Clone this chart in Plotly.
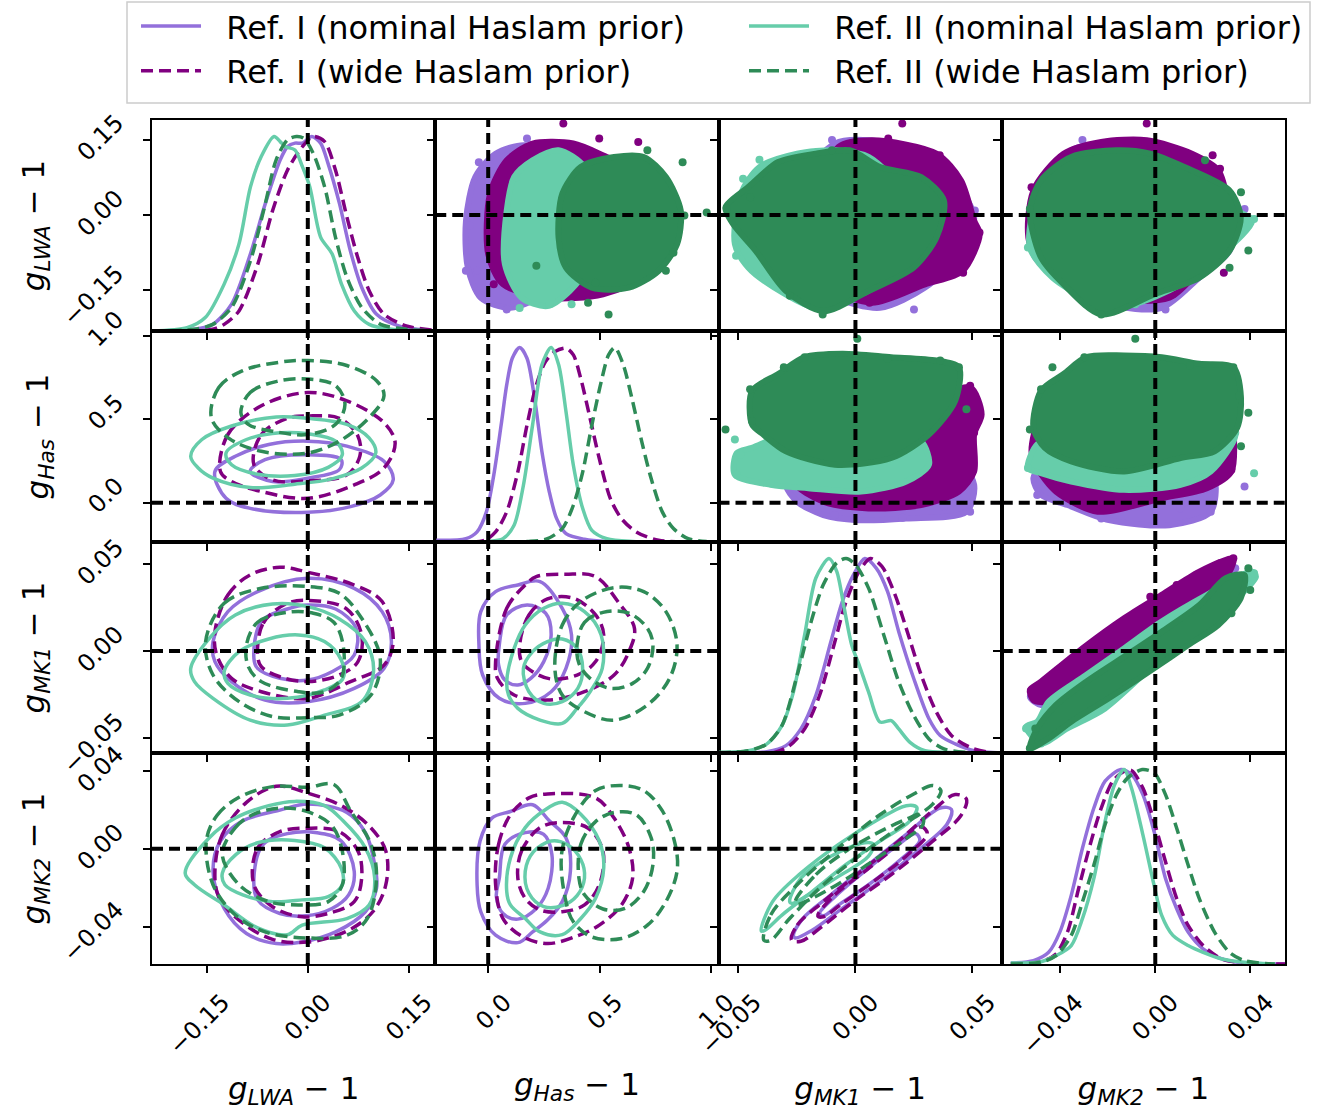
import plotly.graph_objects as go
from plotly.subplots import make_subplots

FONT = "DejaVu Sans"

# ---------------- series ----------------
series_keys = ["I_nom", "I_wide", "II_nom", "II_wide"]
series_names = {
    "I_nom": "Ref. I (nominal Haslam prior)",
    "I_wide": "Ref. I (wide Haslam prior)",
    "II_nom": "Ref. II (nominal Haslam prior)",
    "II_wide": "Ref. II (wide Haslam prior)",
}
series_colors = {"I_nom": "#9370DB", "I_wide": "#800080", "II_nom": "#66CDAA", "II_wide": "#2E8B57"}
series_dash = {"I_nom": "solid", "I_wide": "12px,6px", "II_nom": "solid", "II_wide": "12px,6px"}
series_legend = {"I_nom": "legend", "I_wide": "legend", "II_nom": "legend2", "II_wide": "legend2"}

# ---------------- axes ----------------
axis_titles = ["<i>g</i><sub><i>LWA</i></sub> − 1", "<i>g</i><sub><i>Has</i></sub> − 1",
               "<i>g</i><sub><i>MK1</i></sub> − 1", "<i>g</i><sub><i>MK2</i></sub> − 1"]
ranges_x = [[-0.231, 0.189], [-0.2375, 1.033], [-0.0585, 0.0625], [-0.0645, 0.0545]]
ranges_y = [[-0.231, 0.189], [-0.236, 1.03], [-0.0586, 0.0626], [-0.0593, 0.0493]]
tick_vals = [[-0.15, 0.0, 0.15], [0.0, 0.5, 1.0], [-0.05, 0.0, 0.05], [-0.04, 0.0, 0.04]]
tick_text = [["−0.15", "0.00", "0.15"], ["0.0", "0.5", "1.0"], ["−0.05", "0.00", "0.05"], ["−0.04", "0.00", "0.04"]]
truth = [0.0, 0.0, 0.0, 0.0]
density_range = [0, 1.085]

# ---------------- 1D marginal densities (x, relative density) ----------------
kde_lwa = {
    "I_nom": ([-0.232, -0.168, -0.141, -0.113, -0.085, -0.063, -0.041, -0.030, -0.019, -0.008, 0.006, 0.019, 0.030, 0.047, 0.063, 0.080, 0.102, 0.135, 0.189],
              [0, 0.009, 0.034, 0.138, 0.397, 0.655, 0.879, 0.948, 0.966, 0.966, 1.0, 0.966, 0.862, 0.655, 0.414, 0.224, 0.086, 0.026, 0]),
    "I_wide": ([-0.232, -0.141, -0.124, -0.102, -0.074, -0.052, -0.030, -0.008, 0.008, 0.025, 0.041, 0.058, 0.074, 0.091, 0.113, 0.146, 0.189],
               [0, 0.009, 0.034, 0.103, 0.345, 0.621, 0.828, 0.948, 1.0, 0.974, 0.828, 0.586, 0.379, 0.207, 0.086, 0.026, 0.003]),
    "II_nom": ([-0.232, -0.179, -0.152, -0.124, -0.102, -0.085, -0.069, -0.050, -0.041, -0.033, -0.019, -0.008, 0.003, 0.019, 0.036, 0.050, 0.069, 0.091, 0.124, 0.189],
               [0, 0.017, 0.069, 0.241, 0.448, 0.741, 0.897, 1.0, 0.974, 0.948, 0.931, 0.845, 0.741, 0.483, 0.397, 0.241, 0.103, 0.034, 0.009, 0]),
    "II_wide": ([-0.232, -0.168, -0.141, -0.113, -0.085, -0.063, -0.047, -0.030, -0.017, -0.006, 0.008, 0.025, 0.041, 0.058, 0.080, 0.108, 0.146, 0.189],
                [0, 0.009, 0.034, 0.121, 0.362, 0.655, 0.879, 0.983, 1.0, 0.991, 0.914, 0.741, 0.483, 0.276, 0.121, 0.034, 0.009, 0]),
}
kde_has = {
    "I_nom": ([-0.233, -0.100, -0.050, -0.008, 0.025, 0.058, 0.083, 0.108, 0.141, 0.174, 0.208, 0.241, 0.274, 0.307, 0.349, 0.432, 0.532, 1.033],
              [0.009, 0.017, 0.052, 0.155, 0.344, 0.601, 0.808, 0.945, 1.0, 0.945, 0.739, 0.464, 0.258, 0.120, 0.043, 0.014, 0.003, 0]),
    "I_wide": ([-0.233, -0.017, 0.033, 0.083, 0.133, 0.174, 0.216, 0.257, 0.299, 0.349, 0.382, 0.415, 0.457, 0.498, 0.548, 0.598, 0.664, 0.764, 1.033],
               [0, 0.009, 0.052, 0.155, 0.361, 0.601, 0.808, 0.928, 0.979, 0.997, 0.962, 0.842, 0.636, 0.430, 0.223, 0.120, 0.052, 0.009, 0]),
    "II_nom": ([-0.233, 0.0, 0.066, 0.116, 0.158, 0.199, 0.241, 0.282, 0.316, 0.349, 0.382, 0.424, 0.465, 0.532, 0.648, 1.033],
               [0, 0.003, 0.017, 0.086, 0.292, 0.601, 0.911, 1.0, 0.911, 0.670, 0.395, 0.172, 0.060, 0.017, 0.003, 0]),
    "II_wide": ([-0.233, 0.183, 0.266, 0.332, 0.382, 0.424, 0.465, 0.507, 0.540, 0.568, 0.606, 0.648, 0.689, 0.731, 0.781, 0.831, 0.897, 0.980],
                [0, 0.003, 0.017, 0.069, 0.189, 0.361, 0.601, 0.825, 0.962, 1.0, 0.911, 0.722, 0.515, 0.326, 0.155, 0.069, 0.017, 0.003]),
}
kde_mk1 = {
    "I_nom": ([-0.0584, -0.0378, -0.0297, -0.0233, -0.0169, -0.0105, -0.0056, -0.0008, 0.0040, 0.0088, 0.0137, 0.0185, 0.0249, 0.0314, 0.0362, 0.0426, 0.0507, 0.0627],
              [0, 0.007, 0.038, 0.124, 0.297, 0.572, 0.779, 0.917, 1.0, 0.952, 0.831, 0.624, 0.383, 0.176, 0.090, 0.047, 0.012, 0]),
    "I_wide": ([-0.0584, -0.0346, -0.0281, -0.0217, -0.0153, -0.0088, -0.0040, 0.0016, 0.0064, 0.0113, 0.0169, 0.0217, 0.0281, 0.0346, 0.0410, 0.0490, 0.0571, 0.0627],
               [0, 0.003, 0.038, 0.124, 0.297, 0.572, 0.779, 0.934, 1.0, 0.960, 0.814, 0.641, 0.400, 0.210, 0.090, 0.029, 0.003, 0]),
    "II_nom": ([-0.0584, -0.0458, -0.0378, -0.0314, -0.0265, -0.0217, -0.0169, -0.0113, -0.0080, -0.0048, -0.0016, 0.0016, 0.0056, 0.0105, 0.0153, 0.0185, 0.0233, 0.0297, 0.0410, 0.0627],
               [0.003, 0.012, 0.047, 0.141, 0.314, 0.607, 0.900, 1.0, 0.934, 0.745, 0.555, 0.452, 0.314, 0.159, 0.167, 0.124, 0.055, 0.012, 0.003, 0]),
    "II_wide": ([-0.0584, -0.0458, -0.0378, -0.0314, -0.0249, -0.0185, -0.0137, -0.0080, -0.0040, 0.0, 0.0056, 0.0121, 0.0185, 0.0249, 0.0314, 0.0378, 0.0474, 0.0627],
                [0.003, 0.012, 0.047, 0.141, 0.400, 0.693, 0.866, 0.978, 1.0, 0.969, 0.848, 0.607, 0.366, 0.193, 0.072, 0.021, 0.003, 0]),
}
kde_mk2 = {
    "I_nom": ([-0.0607, -0.0512, -0.0448, -0.0401, -0.0353, -0.0306, -0.0258, -0.0211, -0.0144, -0.0100, -0.0052, -0.0005, 0.0043, 0.0090, 0.0138, 0.0201, 0.0280, 0.0375, 0.0545],
              [0.005, 0.017, 0.060, 0.164, 0.353, 0.595, 0.802, 0.940, 1.0, 0.974, 0.871, 0.681, 0.440, 0.284, 0.164, 0.078, 0.026, 0.005, 0]),
    "I_wide": ([-0.0607, -0.0480, -0.0417, -0.0369, -0.0322, -0.0274, -0.0227, -0.0179, -0.0131, -0.0100, -0.0052, -0.0005, 0.0043, 0.0090, 0.0138, 0.0201, 0.0280, 0.0375, 0.0545],
               [0, 0.012, 0.052, 0.164, 0.388, 0.612, 0.802, 0.940, 0.991, 0.995, 0.905, 0.733, 0.526, 0.336, 0.198, 0.095, 0.026, 0.005, 0]),
    "II_nom": ([-0.0607, -0.0480, -0.0417, -0.0353, -0.0306, -0.0258, -0.0211, -0.0171, -0.0131, -0.0100, -0.0052, -0.0005, 0.0027, 0.0074, 0.0138, 0.0201, 0.0280, 0.0375, 0.0502],
               [0.005, 0.012, 0.043, 0.095, 0.233, 0.440, 0.733, 0.922, 1.0, 0.905, 0.664, 0.405, 0.250, 0.147, 0.095, 0.060, 0.026, 0.009, 0]),
    "II_wide": ([-0.0607, -0.0480, -0.0417, -0.0353, -0.0306, -0.0258, -0.0211, -0.0163, -0.0116, -0.0055, -0.0005, 0.0043, 0.0090, 0.0138, 0.0185, 0.0249, 0.0312, 0.0375, 0.0502],
                [0, 0.009, 0.043, 0.147, 0.319, 0.509, 0.716, 0.871, 0.957, 1.0, 0.983, 0.871, 0.698, 0.509, 0.336, 0.164, 0.060, 0.017, 0]),
}

# ---------------- 2D credible contours (outer, inner), lower triangle ----------------
c_has_lwa = {
    "I_nom": [[(-0.1377, 0.187), (-0.1212, 0.026), (-0.0854, -0.034), (0, -0.058), (0.0634, -0.024), (0.1074, 0.046), (0.1267, 0.137), (0.113, 0.248), (0.0579, 0.339), (0, 0.369), (-0.0579, 0.349), (-0.1074, 0.278)],
              [(-0.0854, 0.187), (-0.0634, 0.258), (0, 0.288), (0.0496, 0.258), (0.0468, 0.198), (0, 0.147), (-0.0523, 0.127)]],
    "I_wide": [[(-0.1295, 0.187), (-0.1185, 0.409), (-0.0689, 0.581), (0, 0.661), (0.0579, 0.611), (0.113, 0.480), (0.1295, 0.359), (0.113, 0.208), (0.0689, 0.107), (0, 0.026), (-0.0689, 0.067), (-0.113, 0.127)],
               [(-0.0799, 0.228), (-0.0689, 0.409), (-0.0303, 0.506), (0, 0.520), (0.0468, 0.506), (0.0744, 0.399), (0.0771, 0.278), (0.0579, 0.167), (0, 0.131), (-0.0523, 0.137)]],
    "II_nom": [[(-0.1736, 0.278), (-0.157, 0.379), (-0.113, 0.460), (-0.0468, 0.514), (0, 0.506), (0.0579, 0.470), (0.0909, 0.389), (0.1008, 0.298), (0.0799, 0.208), (0.0358, 0.143), (-0.0193, 0.111), (-0.0854, 0.091), (-0.1405, 0.147), (-0.1625, 0.208)],
               [(-0.1212, 0.298), (-0.0909, 0.379), (-0.0413, 0.419), (0, 0.413), (0.0413, 0.369), (0.0512, 0.288), (0.0303, 0.212), (-0.0193, 0.163), (-0.0744, 0.171), (-0.113, 0.228)]],
    "II_wide": [[(-0.143, 0.510), (-0.132, 0.691), (-0.0964, 0.792), (-0.0413, 0.843), (0, 0.853), (0.0579, 0.823), (0.102, 0.732), (0.113, 0.641), (0.0909, 0.510), (0.0468, 0.369), (0, 0.298), (-0.0689, 0.308), (-0.118, 0.389)],
                [(-0.0992, 0.540), (-0.0854, 0.661), (-0.0457, 0.728), (0, 0.742), (0.0413, 0.702), (0.0551, 0.591), (0.0413, 0.470), (0, 0.409), (-0.0523, 0.429), (-0.0882, 0.470)]],
}
c_mk1_lwa = {
    "I_nom": [[(-0.1405, 0.0054), (-0.1185, 0.0226), (-0.0744, 0.0341), (0, 0.0418), (0.0689, 0.036), (0.1102, 0.0226), (0.124, 0.0054), (0.113, -0.0100), (0.0689, -0.0215), (0, -0.0291), (-0.0634, -0.0282), (-0.113, -0.0176), (-0.1377, -0.0061)],
              [(-0.0799, -0.0042), (-0.0689, 0.0169), (-0.0303, 0.0241), (0, 0.0264), (0.0413, 0.0241), (0.0716, 0.013), (0.0689, -0.0023), (0.0358, -0.0119), (0, -0.0167), (-0.0413, -0.0157), (-0.0744, -0.01)]],
    "I_wide": [[(-0.1377, 0.0111), (-0.1185, 0.0322), (-0.0854, 0.0437), (-0.0413, 0.0481), (0, 0.0452), (0.0689, 0.0379), (0.1102, 0.0284), (0.1267, 0.0054), (0.113, -0.0081), (0.0634, -0.0176), (0, -0.0272), (-0.0689, -0.0234), (-0.113, -0.0157), (-0.135, -0.0023)],
               [(-0.0744, -0.0023), (-0.0661, 0.0159), (-0.0303, 0.0274), (0.0083, 0.0289), (0.0579, 0.0241), (0.0799, 0.0092), (0.0744, -0.0061), (0.0468, -0.0138), (0, -0.0176), (-0.0413, -0.0148), (-0.0689, -0.009)]],
    "II_nom": [[(-0.1736, -0.01), (-0.146, 0.0073), (-0.1074, 0.0207), (-0.0523, 0.027), (0, 0.0255), (0.0468, 0.0184), (0.0854, 0.0054), (0.0975, -0.0119), (0.0799, -0.0291), (0.0248, -0.0368), (-0.0303, -0.0425), (-0.0854, -0.0397), (-0.1405, -0.0272), (-0.168, -0.0176)],
               [(-0.124, -0.0119), (-0.1019, -0.0004), (-0.0579, 0.0069), (-0.0138, 0.0092), (0.0248, 0.0054), (0.0496, -0.0052), (0.0523, -0.0157), (0.0248, -0.0224), (-0.0303, -0.0272), (-0.0854, -0.0253), (-0.1185, -0.0186)]],
    "II_wide": [[(-0.1515, 0.0054), (-0.124, 0.0274), (-0.0689, 0.036), (0, 0.037), (0.0468, 0.0331), (0.0799, 0.0188), (0.1074, -0.0042), (0.0937, -0.0253), (0.0468, -0.0368), (0, -0.0383), (-0.0523, -0.0377), (-0.1019, -0.0291), (-0.1405, -0.0138)],
                [(-0.0909, 0.0035), (-0.0744, 0.0165), (-0.0303, 0.0222), (0.0083, 0.0217), (0.0386, 0.0165), (0.0523, 0.0035), (0.0496, -0.0157), (0.0248, -0.0234), (-0.0138, -0.0234), (-0.0689, -0.0176), (-0.0882, -0.009)]],
}
c_mk1_has = {
    "I_nom": [[(-0.0415, 0.0035), (-0.0332, 0.0226), (0.0332, 0.0341), (0.1329, 0.0379), (0.2325, 0.0399), (0.3322, 0.0245), (0.3737, 0.0092), (0.3488, -0.0100), (0.2824, -0.0234), (0.1661, -0.0301), (0.0498, -0.0272), (-0.0249, -0.0138)],
              [(0.0498, 0.0035), (0.0831, 0.0207), (0.1744, 0.0264), (0.2575, 0.0217), (0.2824, 0.0092), (0.2492, -0.0061), (0.191, -0.0157), (0.1329, -0.0195), (0.0748, -0.0167), (0.0465, -0.008)]],
    "I_wide": [[(0.0332, -0.0061), (0.0831, 0.0245), (0.1661, 0.0379), (0.2159, 0.0427), (0.3488, 0.0441), (0.4817, 0.0427), (0.5814, 0.0284), (0.6561, 0.013), (0.6312, -0.0004), (0.5647, -0.0138), (0.4319, -0.0234), (0.2658, -0.0282), (0.1163, -0.0253), (0.0415, -0.0157)],
               [(0.1412, 0.0035), (0.1827, 0.0207), (0.2658, 0.0299), (0.382, 0.0303), (0.4817, 0.0207), (0.5182, 0.0092), (0.4817, -0.0061), (0.3986, -0.0138), (0.2824, -0.0161), (0.1993, -0.0119), (0.1495, -0.0061)]],
    "II_nom": [[(0.0831, -0.0176), (0.1163, 0.0015), (0.1661, 0.0149), (0.2492, 0.0245), (0.3322, 0.0274), (0.4319, 0.0226), (0.5066, 0.0092), (0.5116, -0.0100), (0.4568, -0.0234), (0.3986, -0.033), (0.3322, -0.0416), (0.2325, -0.0397), (0.1329, -0.033), (0.0914, -0.0253)],
               [(0.1578, -0.0100), (0.1993, -0.0004), (0.2658, 0.0054), (0.3322, 0.0069), (0.3986, 0.0015), (0.4236, -0.0100), (0.402, -0.0215), (0.3322, -0.0291), (0.2492, -0.0301), (0.1827, -0.0234)]],
    "II_wide": [[(0.299, -0.0100), (0.3322, 0.0149), (0.4153, 0.0284), (0.5647, 0.0364), (0.6976, 0.0341), (0.7973, 0.0226), (0.8471, 0.0035), (0.8139, -0.0157), (0.7142, -0.031), (0.5647, -0.0397), (0.4319, -0.0349), (0.3322, -0.0253)],
                [(0.3986, 0.0035), (0.4319, 0.0165), (0.5149, 0.0222), (0.6312, 0.0217), (0.7142, 0.013), (0.7391, 0.0035), (0.7142, -0.0100), (0.6478, -0.0186), (0.5481, -0.0215), (0.4568, -0.0157), (0.407, -0.0071)]],
}
c_mk2_lwa = {
    "I_nom": [[(-0.1405, -0.0116), (-0.1295, 0.004), (-0.0964, 0.0144), (-0.0413, 0.0199), (0, 0.023), (0.0579, 0.0187), (0.0854, 0.0083), (0.0992, -0.0081), (0.1019, -0.0203), (0.0854, -0.0324), (0.0413, -0.0428), (-0.0083, -0.048), (-0.0468, -0.0488), (-0.0909, -0.0436), (-0.124, -0.0307)],
              [(-0.0799, -0.0151), (-0.0661, 0.0023), (-0.0303, 0.0078), (0.0138, 0.0083), (0.0496, 0.004), (0.0689, -0.0116), (0.0606, -0.0237), (0.0358, -0.0307), (-0.0028, -0.0345), (-0.0413, -0.0333), (-0.0744, -0.0263)]],
    "I_wide": [[(-0.1377, -0.0116), (-0.1267, 0.0074), (-0.0909, 0.0239), (-0.0468, 0.0322), (0, 0.0286), (0.0496, 0.0222), (0.0909, 0.0118), (0.1157, -0.0012), (0.1157, -0.0185), (0.0964, -0.0324), (0.0579, -0.0424), (0, -0.048), (-0.0523, -0.0466), (-0.1019, -0.0367), (-0.1322, -0.0246)],
               [(-0.0799, -0.0185), (-0.0744, 0.0005), (-0.0413, 0.0088), (0, 0.0106), (0.0468, 0.0088), (0.0744, -0.0012), (0.0799, -0.0151), (0.0689, -0.0272), (0.0303, -0.0333), (-0.0083, -0.035), (-0.0523, -0.0298)]],
    "II_nom": [[(-0.1818, -0.0125), (-0.146, 0.0057), (-0.1074, 0.0158), (-0.0579, 0.0222), (-0.0193, 0.0244), (0.0248, 0.0222), (0.0523, 0.0144), (0.0854, 0.0005), (0.0992, -0.0151), (0.0909, -0.0289), (0.0579, -0.0359), (-0.0083, -0.0393), (-0.0303, -0.0442), (-0.0744, -0.0407), (-0.124, -0.0289), (-0.168, -0.0185)],
               [(-0.1267, -0.0125), (-0.1063, -0.0029), (-0.0744, 0.0031), (-0.0193, 0.0043), (0.0248, 0.0005), (0.0496, -0.0099), (0.0512, -0.0185), (0.0303, -0.0246), (-0.0083, -0.0263), (-0.0523, -0.0272), (-0.0964, -0.0237), (-0.1229, -0.0185)]],
    "II_wide": [[(-0.1504, 0.004), (-0.135, 0.017), (-0.1019, 0.0265), (-0.0523, 0.032), (0, 0.0317), (0.0386, 0.0331), (0.0634, 0.0196), (0.0937, 0.0023), (0.1019, -0.0151), (0.0882, -0.0359), (0.0579, -0.0445), (0, -0.0459), (-0.0634, -0.0428), (-0.1074, -0.0341), (-0.1405, -0.0185)],
                [(-0.1267, -0.0029), (-0.1074, 0.0109), (-0.0799, 0.0178), (-0.0358, 0.021), (0.0028, 0.0187), (0.0358, 0.0118), (0.0512, -0.0012), (0.0512, -0.0185), (0.0303, -0.0272), (-0.0138, -0.0289), (-0.0579, -0.0272), (-0.1019, -0.0185)]],
}
c_mk2_has = {
    "I_nom": [[(-0.0498, -0.0185), (-0.0365, 0.004), (0.0166, 0.0158), (0.0997, 0.0192), (0.1993, 0.0227), (0.2741, 0.0144), (0.3488, 0.0057), (0.3687, -0.0116), (0.3322, -0.0272), (0.2658, -0.0367), (0.1993, -0.0428), (0.1329, -0.0483), (0.0332, -0.0445), (-0.0332, -0.0324)],
              [(0.0498, -0.0151), (0.0748, 0.0023), (0.1661, 0.0083), (0.2492, 0.0074), (0.2857, -0.0029), (0.2691, -0.0203), (0.2159, -0.0307), (0.1329, -0.0362), (0.0664, -0.0333), (0.0365, -0.0246)]],
    "I_wide": [[(0.0332, -0.0185), (0.0465, 0.0023), (0.0997, 0.0175), (0.1827, 0.0262), (0.2658, 0.0282), (0.4817, 0.0262), (0.5647, 0.0158), (0.6312, 0.0005), (0.6478, -0.0151), (0.598, -0.0289), (0.4983, -0.0393), (0.3986, -0.0449), (0.2658, -0.0488), (0.1495, -0.0449), (0.0664, -0.0359)],
               [(0.1329, -0.0151), (0.1495, -0.0012), (0.2325, 0.0109), (0.3322, 0.0135), (0.4485, 0.0106), (0.5149, -0.0012), (0.4983, -0.0185), (0.4319, -0.0289), (0.3322, -0.0324), (0.2325, -0.0315), (0.1661, -0.0255)]],
    "II_nom": [[(0.0831, -0.022), (0.0997, -0.0047), (0.1661, 0.0109), (0.2492, 0.0196), (0.3322, 0.0239), (0.4153, 0.0178), (0.4983, 0.004), (0.5182, -0.0099), (0.4817, -0.0255), (0.4153, -0.0359), (0.3322, -0.0442), (0.2325, -0.0428), (0.1661, -0.0359), (0.0997, -0.0289)],
               [(0.1661, -0.0116), (0.2026, -0.0016), (0.2824, 0.004), (0.3521, 0.0023), (0.4153, -0.0055), (0.4319, -0.0151), (0.3986, -0.0241), (0.3322, -0.0293), (0.2492, -0.0298), (0.1827, -0.0229)]],
    "II_wide": [[(0.3488, -0.0272), (0.3289, -0.0029), (0.382, 0.0158), (0.4817, 0.03), (0.598, 0.0326), (0.6976, 0.03), (0.7807, 0.0196), (0.8388, 0.0023), (0.8471, -0.0116), (0.7973, -0.0272), (0.7142, -0.0393), (0.598, -0.0462), (0.4651, -0.0454), (0.382, -0.0376)],
                [(0.407, -0.0151), (0.4153, 0.0023), (0.4817, 0.014), (0.5647, 0.0187), (0.6644, 0.0175), (0.7308, 0.0057), (0.7391, -0.0081), (0.6976, -0.022), (0.6146, -0.0307), (0.5149, -0.031), (0.4319, -0.0237)]],
}
c_mk2_mk1 = {
    "I_nom": [[(-0.0265, -0.0445), (-0.0225, -0.0359), (-0.0105, -0.0237), (0.0056, -0.0081), (0.0217, 0.0074), (0.0362, 0.021), (0.041, 0.0203), (0.0391, 0.0126), (0.0265, -0.0012), (0.0105, -0.0168), (-0.0056, -0.0307), (-0.0185, -0.0419), (-0.0257, -0.0459)],
              [(-0.0153, -0.0333), (-0.0072, -0.0229), (0.0056, -0.0099), (0.0185, 0.0023), (0.0257, 0.0078), (0.0275, 0.0043), (0.0193, -0.0055), (0.0056, -0.0185), (-0.0072, -0.0289), (-0.0137, -0.0345)]],
    "I_wide": [[(-0.0273, -0.0471), (-0.0249, -0.0393), (-0.0137, -0.0272), (0.0024, -0.0116), (0.0185, 0.004), (0.033, 0.0196), (0.0426, 0.0279), (0.0474, 0.0256), (0.045, 0.017), (0.0314, 0.0023), (0.0153, -0.0133), (-0.0008, -0.0272), (-0.0153, -0.041), (-0.0233, -0.0476)],
               [(-0.0161, -0.0345), (-0.0088, -0.0237), (0.004, -0.0116), (0.0185, 0.0023), (0.0281, 0.0113), (0.0307, 0.0078), (0.0225, -0.0029), (0.0088, -0.0159), (-0.0056, -0.0281), (-0.0137, -0.035)]],
    "II_nom": [[(-0.0402, -0.0424), (-0.0354, -0.0272), (-0.0233, -0.0125), (-0.0072, 0.0023), (0.0088, 0.0144), (0.0217, 0.0222), (0.0262, 0.0213), (0.0233, 0.0144), (0.0105, 0.004), (-0.004, -0.0081), (-0.0185, -0.022), (-0.0314, -0.0341), (-0.0386, -0.0419)],
               [(-0.0281, -0.0272), (-0.0233, -0.0151), (-0.0105, -0.0038), (0.004, 0.0031), (0.0076, 0.0023), (0.0056, -0.0038), (-0.0072, -0.0142), (-0.0201, -0.0237), (-0.0273, -0.0281)]],
    "II_wide": [[(-0.0391, -0.0471), (-0.0362, -0.0341), (-0.0249, -0.0185), (-0.0088, -0.0012), (0.0088, 0.0161), (0.0249, 0.0282), (0.033, 0.0326), (0.0365, 0.03), (0.033, 0.023), (0.0185, 0.0109), (0.0024, -0.0029), (-0.0137, -0.0185), (-0.0281, -0.0359), (-0.0362, -0.0471)],
                [(-0.0257, -0.0272), (-0.0169, -0.0133), (-0.004, -0.0012), (0.0088, 0.0078), (0.0217, 0.0152), (0.0281, 0.0178), (0.0289, 0.0126), (0.0201, 0.004), (0.0072, -0.0064), (-0.0056, -0.0168), (-0.0185, -0.0255), (-0.0249, -0.0286)]],
}

# ---------------- sample clouds (outline of the dense scatter), upper triangle ----------------
cl_lwa_has = {
    "I_nom": [(-0.0914, -0.1047), (-0.0997, -0.0113), (-0.0581, 0.0754), (0.0332, 0.122), (0.1661, 0.1387), (0.299, 0.1087), (0.3654, 0.042), (0.3488, -0.0714), (0.2658, -0.1514), (0.0997, -0.1848), (-0.0332, -0.1647)],
    "I_wide": [(0, -0.078), (0.0083, 0.042), (0.0831, 0.1087), (0.1993, 0.1421), (0.382, 0.1421), (0.5315, 0.1154), (0.7308, 0.0754), (0.7973, -0.0113), (0.7308, -0.1114), (0.5149, -0.1581), (0.2658, -0.1648), (0.0664, -0.1381)],
    "II_nom": [(0.0748, -0.098), (0.0831, 0.0087), (0.1163, 0.0754), (0.1993, 0.1087), (0.3156, 0.1287), (0.4319, 0.0954), (0.4817, 0.0087), (0.4651, -0.0914), (0.3654, -0.1514), (0.2658, -0.1814), (0.1495, -0.1647)],
    "II_wide": [(0.3156, -0.0447), (0.3322, 0.042), (0.4153, 0.0954), (0.5647, 0.1154), (0.6976, 0.1154), (0.7973, 0.0754), (0.8637, 0.0087), (0.8471, -0.058), (0.7641, -0.1114), (0.6312, -0.1447), (0.4651, -0.1447), (0.3488, -0.1047)],
}
cl_lwa_mk1 = {
    "I_nom": [(-0.0265, -0.058), (-0.0217, 0.0754), (-0.0088, 0.1421), (0.0056, 0.1487), (0.0281, 0.122), (0.0442, 0.0554), (0.0507, -0.0047), (0.0458, -0.0714), (0.0297, -0.1447), (0.0105, -0.1848), (-0.0088, -0.1647), (-0.0217, -0.1247)],
    "I_wide": [(-0.0201, -0.0714), (-0.0169, 0.042), (-0.0072, 0.1354), (0.0072, 0.1487), (0.0346, 0.122), (0.0451, 0.0687), (0.0507, -0.0113), (0.0531, -0.038), (0.0458, -0.1114), (0.0297, -0.1381), (0.0072, -0.1748), (-0.0105, -0.1447)],
    "II_nom": [(-0.0515, -0.058), (-0.049, 0.042), (-0.041, 0.0954), (-0.0249, 0.122), (-0.0088, 0.1287), (0.0056, 0.1154), (0.0217, 0.042), (0.0281, -0.0247), (0.0185, -0.1114), (-0.0008, -0.1648), (-0.0169, -0.1848), (-0.0346, -0.1447), (-0.0458, -0.1047)],
    "II_wide": [(-0.0555, 0.0153), (-0.0458, 0.0554), (-0.033, 0.1054), (-0.0169, 0.122), (-0.0024, 0.1287), (0.0105, 0.0954), (0.0281, 0.0754), (0.0378, 0.0287), (0.0346, -0.0447), (0.0249, -0.1047), (0.0056, -0.1514), (-0.0137, -0.1914), (-0.0297, -0.1514), (-0.0426, -0.0714), (-0.0523, -0.018)],
}
cl_lwa_mk2 = {
    "I_nom": [(-0.0512, -0.078), (-0.048, 0.0554), (-0.0353, 0.1287), (-0.0195, 0.1421), (0.0027, 0.122), (0.0185, 0.0954), (0.0265, 0.0354), (0.0344, 0.0087), (0.0312, -0.0714), (0.0185, -0.1247), (0.0027, -0.1848), (-0.0195, -0.1781), (-0.0385, -0.1314)],
    "I_wide": [(-0.0527, -0.058), (-0.0512, 0.0487), (-0.0385, 0.122), (-0.0227, 0.1454), (-0.0036, 0.1487), (0.0154, 0.122), (0.0265, 0.0887), (0.0312, 0.0087), (0.0328, -0.0514), (0.0185, -0.1114), (0.0059, -0.1648), (-0.0211, -0.1648), (-0.0401, -0.1247)],
    "II_nom": [(-0.0527, -0.0647), (-0.0496, 0.0354), (-0.0385, 0.1021), (-0.0195, 0.122), (-0.0005, 0.1154), (0.0185, 0.062), (0.0344, 0.0087), (0.0407, -0.0113), (0.028, -0.078), (0.0106, -0.1381), (-0.01, -0.1781), (-0.029, -0.1648), (-0.0432, -0.1247)],
    "II_wide": [(-0.0527, 0.0087), (-0.048, 0.0687), (-0.0353, 0.1154), (-0.0163, 0.1287), (-0.0021, 0.122), (0.0122, 0.0954), (0.0312, 0.0487), (0.0359, -0.0047), (0.0312, -0.0714), (0.0185, -0.1247), (-0.0005, -0.1581), (-0.0227, -0.1981), (-0.0385, -0.1381), (-0.048, -0.0847)],
}
cl_has_mk1 = {
    "I_nom": [(-0.0297, 0.107), (-0.0249, 0.268), (-0.0056, 0.409), (0.0185, 0.409), (0.041, 0.308), (0.0507, 0.107), (0.0474, -0.0544), (0.0217, -0.0948), (0.0008, -0.1048), (-0.0137, -0.0746), (-0.0249, 0.006)],
    "I_wide": [(-0.0265, 0.127), (-0.0249, 0.409), (-0.0137, 0.571), (0.0056, 0.611), (0.0281, 0.591), (0.049, 0.692), (0.0539, 0.530), (0.0507, 0.409), (0.0507, 0.187), (0.0442, 0.067), (0.0281, -0.0141), (0.0056, -0.0343), (-0.0137, 0.006)],
    "II_nom": [(-0.0515, 0.167), (-0.0507, 0.298), (-0.0442, 0.329), (-0.0297, 0.409), (-0.0056, 0.429), (0.0153, 0.429), (0.0281, 0.369), (0.0314, 0.228), (0.0217, 0.127), (0.0024, 0.067), (-0.0201, 0.087), (-0.0362, 0.107)],
    "II_wide": [(-0.0442, 0.470), (-0.0442, 0.671), (-0.033, 0.772), (-0.0217, 0.873), (-0.0056, 0.893), (0.0153, 0.873), (0.0346, 0.853), (0.0442, 0.812), (0.0426, 0.611), (0.0314, 0.409), (0.0153, 0.268), (-0.0088, 0.228), (-0.0297, 0.308), (-0.0394, 0.409)],
}
cl_has_mk2 = {
    "I_nom": [(-0.0512, 0.147), (-0.0448, 0.268), (-0.029, 0.349), (-0.0052, 0.369), (0.0154, 0.308), (0.0249, 0.147), (0.0233, -0.0544), (0.0059, -0.135), (-0.0195, -0.1048), (-0.0369, -0.0141), (-0.048, 0.0464)],
    "I_wide": [(-0.052, 0.308), (-0.048, 0.530), (-0.0353, 0.671), (-0.0131, 0.712), (0.0106, 0.692), (0.0312, 0.692), (0.0328, 0.470), (0.032, 0.187), (0.0217, 0.0867), (0.0027, 0.0262), (-0.0242, -0.0544), (-0.0417, 0.0665), (-0.0496, 0.208)],
    "II_nom": [(-0.0535, 0.208), (-0.0496, 0.349), (-0.0369, 0.409), (-0.0131, 0.429), (0.0106, 0.409), (0.0249, 0.429), (0.0336, 0.409), (0.0233, 0.187), (0.0106, 0.107), (-0.0131, 0.077), (-0.0353, 0.127), (-0.048, 0.177)],
    "II_wide": [(-0.0512, 0.450), (-0.048, 0.671), (-0.0385, 0.772), (-0.029, 0.873), (-0.0131, 0.883), (0.0027, 0.873), (0.0185, 0.833), (0.0328, 0.812), (0.036, 0.631), (0.0344, 0.450), (0.0249, 0.308), (0.0106, 0.268), (-0.0131, 0.187), (-0.0353, 0.248), (-0.0464, 0.329)],
}
cl_mk1_mk2 = {
    "I_nom": [(-0.0527, -0.0262), (-0.0448, -0.0157), (-0.029, 0.0015), (-0.01, 0.0207), (0.0106, 0.0379), (0.028, 0.0494), (0.0336, 0.0475), (0.0185, 0.0284), (-0.0005, 0.0092), (-0.0195, -0.01), (-0.0369, -0.0253), (-0.048, -0.031)],
    "I_wide": [(-0.0527, -0.0224), (-0.048, -0.0176), (-0.0306, 0.0015), (-0.0131, 0.0188), (0.0027, 0.0322), (0.0185, 0.0456), (0.0328, 0.0533), (0.0312, 0.0456), (0.0185, 0.0303), (0.0027, 0.0149), (-0.0163, -0.0042), (-0.0322, -0.0176), (-0.0448, -0.0291), (-0.0512, -0.0282)],
    "II_nom": [(-0.0543, -0.0435), (-0.0496, -0.0406), (-0.0448, -0.0291), (-0.029, -0.0138), (-0.0131, 0.0015), (0.0027, 0.0169), (0.0217, 0.0322), (0.0407, 0.0456), (0.0423, 0.0427), (0.0344, 0.0303), (0.0154, 0.0092), (-0.0005, -0.008), (-0.0211, -0.033), (-0.0369, -0.0445), (-0.048, -0.0531)],
    "II_wide": [(-0.0527, -0.0559), (-0.0496, -0.0445), (-0.0417, -0.031), (-0.029, -0.0176), (-0.0131, -0.0033), (0.0027, 0.0111), (0.0185, 0.0264), (0.0296, 0.0418), (0.0375, 0.0437), (0.0359, 0.0303), (0.0265, 0.0149), (0.0138, 0.0034), (-0.0005, -0.01), (-0.0195, -0.0272), (-0.0353, -0.0406), (-0.0448, -0.0502)],
}

# ---------------- isolated samples outside the dense clouds ----------------
out_lwa_has = {
    "I_nom": [(-0.042, 0.105), (-0.1, -0.111), (-0.083, -0.021), (-0.05, -0.111), (0.083, -0.188), (0.116, -0.175), (0.174, 0.152)],
    "I_wide": [(0.337, 0.182), (0.498, 0.152), (0.673, 0.145), (0.399, 0.135), (0.199, 0.139), (0.025, -0.138), (0.166, -0.161), (0.424, -0.151), (0.565, 0.102)],
    "II_nom": [(0.274, -0.178), (0.141, -0.185), (0.374, -0.178), (0.125, 0.075)],
    "II_wide": [(0.872, 0.105), (0.98, 0.005), (0.88, -0.001), (0.831, -0.075), (0.54, -0.198), (0.448, -0.175), (0.714, 0.129), (0.482, -0.135), (0.216, -0.101), (0.797, -0.111)],
}
out_lwa_mk1 = {
    "I_nom": [(-0.010, 0.149), (0.025, -0.188), (0.041, 0.065), (0.051, 0.009), (0.014, -0.168)],
    "I_wide": [(0.020, 0.182), (0.014, 0.152), (0.008, 0.145), (0.036, 0.119), (0.053, -0.035), (0.046, -0.115), (0.006, -0.175), (0.049, -0.058)],
    "II_nom": [(-0.041, 0.110), (-0.048, 0.072), (-0.051, -0.081), (-0.050, -0.045), (-0.036, -0.118), (-0.025, -0.165)],
    "II_wide": [(-0.055, 0.013), (-0.045, 0.035), (-0.028, -0.161), (-0.014, -0.198), (-0.010, 0.129)],
}
out_lwa_mk2 = {
    "I_nom": [(-0.0306, 0.149), (0.0138, 0.115), (0.0375, 0.012), (0.0043, -0.188), (-0.0163, -0.175), (-0.0417, -0.095)],
    "I_wide": [(-0.0036, 0.182), (-0.0171, 0.145), (-0.0116, 0.139), (0.0241, 0.119), (0.0272, 0.092), (-0.052, 0.055), (-0.0512, 0.032), (0.0288, -0.115), (0.0074, -0.158), (-0.0337, -0.141)],
    "II_nom": [(0.0415, -0.008), (-0.0535, -0.065), (-0.029, -0.178), (-0.0084, -0.178)],
    "II_wide": [(-0.0227, -0.198), (0.0391, -0.071), (0.036, 0.045), (0.0209, 0.109), (-0.0527, 0.012), (0.0312, -0.105)],
}
out_has_mk1 = {
    "I_nom": [(-0.0088, -0.075), (0.0008, -0.095), (0.0201, -0.091), (0.049, -0.054), (0.0474, 0.097), (0.0378, -0.024), (-0.0233, 0.067)],
    "I_wide": [(0.049, 0.702), (0.0531, 0.530), (0.0507, 0.419), (0.0498, 0.187), (0.0378, 0.127)],
    "II_nom": [(-0.0515, 0.379), (-0.0507, 0.167), (-0.049, 0.288), (-0.0362, 0.117)],
    "II_wide": [(0.0008, 0.984), (-0.0217, 0.873), (-0.0306, 0.812), (-0.045, 0.681), (-0.0555, 0.439), (-0.0442, 0.490), (0.0362, 0.853), (0.0442, 0.812), (0.0474, 0.560), (0.0137, 0.863)],
}
out_has_mk2 = {
    "I_nom": [(-0.0496, 0.046), (-0.0227, -0.095), (0.0233, -0.054), (0.0375, 0.097), (-0.0322, -0.014), (0.0106, -0.034)],
    "I_wide": [(0.0304, 0.692), (0.032, 0.520), (0.032, 0.198), (0.0233, 0.137), (-0.0512, 0.308), (-0.0448, 0.268)],
    "II_nom": [(0.0415, 0.177), (-0.0535, 0.208), (0.0336, 0.419)],
    "II_wide": [(-0.0084, 0.984), (-0.0298, 0.873), (-0.0432, 0.812), (-0.048, 0.681), (-0.0527, 0.439), (0.0328, 0.812), (0.0352, 0.641), (0.0391, 0.540), (0.036, 0.339), (0.0146, 0.823)],
}
out_mk1_mk2 = {
    "I_nom": [(-0.052, -0.0262), (0.0336, 0.0475)],
    "I_wide": [(0.0328, 0.0533), (0.0272, 0.0504), (0.009, 0.0379), (-0.0021, 0.0312), (-0.052, -0.0224)],
    "II_nom": [(0.0415, 0.0446), (-0.0543, -0.0445), (-0.048, -0.0531), (-0.0417, -0.0464)],
    "II_wide": [(-0.0527, -0.0559), (0.0391, 0.0475), (0.0399, 0.0351), (0.032, 0.0217), (-0.0504, -0.0445)],
}

diag_data = {1: kde_lwa, 2: kde_has, 3: kde_mk1, 4: kde_mk2}
lower_data = {(2, 1): c_has_lwa, (3, 1): c_mk1_lwa, (3, 2): c_mk1_has,
              (4, 1): c_mk2_lwa, (4, 2): c_mk2_has, (4, 3): c_mk2_mk1}
upper_data = {(1, 2): (cl_lwa_has, out_lwa_has), (1, 3): (cl_lwa_mk1, out_lwa_mk1),
              (1, 4): (cl_lwa_mk2, out_lwa_mk2), (2, 3): (cl_has_mk1, out_has_mk1),
              (2, 4): (cl_has_mk2, out_has_mk2), (3, 4): (cl_mk1_mk2, out_mk1_mk2)}


def closed(pts):
    xs = [p[0] for p in pts] + [pts[0][0]]
    ys = [p[1] for p in pts] + [pts[0][1]]
    return xs, ys


def ax_index(r, c):
    return (r - 1) * 4 + c


def xname(k):
    return "x" if k == 1 else f"x{k}"


def yname(k):
    return "y" if k == 1 else f"y{k}"


fig = make_subplots(rows=4, cols=4, horizontal_spacing=0, vertical_spacing=0)

# upper triangle: sample clouds (dense core + isolated samples)
for (r, c), (core, outl) in upper_data.items():
    for s in series_keys:
        xs, ys = closed(core[s])
        fig.add_trace(go.Scatter(x=xs, y=ys, mode="lines", fill="toself",
                                 fillcolor=series_colors[s],
                                 line=dict(color=series_colors[s], width=6, shape="spline", smoothing=0.8),
                                 showlegend=False, hoverinfo="skip"), row=r, col=c)
        fig.add_trace(go.Scatter(x=[p[0] for p in outl[s]], y=[p[1] for p in outl[s]], mode="markers",
                                 marker=dict(color=series_colors[s], size=8, line=dict(width=0)),
                                 showlegend=False, hoverinfo="skip"), row=r, col=c)

# lower triangle: contours
for (r, c), d in lower_data.items():
    for s in series_keys:
        for loop in d[s]:
            xs, ys = closed(loop)
            fig.add_trace(go.Scatter(x=xs, y=ys, mode="lines",
                                     line=dict(color=series_colors[s], width=3.5, dash=series_dash[s],
                                               shape="spline", smoothing=1.0),
                                     showlegend=False, hoverinfo="skip"), row=r, col=c)

# diagonal: marginal densities
for i in range(1, 5):
    for s in series_keys:
        xs, ds = diag_data[i][s]
        fig.add_trace(go.Scatter(x=xs, y=ds, mode="lines",
                                 name="\u00a0\u00a0" + series_names[s],
                                 legend=series_legend[s], legendgroup=s,
                                 showlegend=(i == 1),
                                 line=dict(color=series_colors[s], width=3.5, dash=series_dash[s],
                                           shape="spline", smoothing=0.8),
                                 hoverinfo="skip"), row=i, col=i)

common = dict(showline=True, linecolor="black", linewidth=1.5, mirror=True,
              ticks="outside", ticklen=7, tickwidth=1.5, tickcolor="black",
              showgrid=False, zeroline=False, tickangle=-45,
              tickfont=dict(family=FONT, size=24, color="black"))

# extra title offsets for the axes whose tick labels are shorter ("0.5" vs "-0.15")
x_title_standoff = [18, 39, 18, 18]
y_title_standoff = [4, 25, 4, 4]

shapes = []
for r in range(1, 5):
    for c in range(1, 5):
        k = ax_index(r, c)
        xa = dict(common, range=ranges_x[c - 1], tickvals=tick_vals[c - 1], ticktext=tick_text[c - 1],
                  showticklabels=(r == 4), ticklabelshift=16, ticklabelstandoff=6)
        if r == c:
            lo, hi = ranges_y[r - 1]
            yv = [(t - lo) / (hi - lo) * density_range[1] for t in tick_vals[r - 1]]
            ya = dict(common, range=density_range, tickvals=yv, ticktext=tick_text[r - 1],
                      showticklabels=(c == 1), ticklabelshift=-20, ticklabelstandoff=22)
        else:
            ya = dict(common, range=ranges_y[r - 1], tickvals=tick_vals[r - 1], ticktext=tick_text[r - 1],
                      showticklabels=(c == 1), ticklabelshift=-20, ticklabelstandoff=22)
        if r == 4:
            xa["title"] = dict(text=axis_titles[c - 1], font=dict(family=FONT, size=31, color="black"),
                               standoff=x_title_standoff[c - 1])
        if c == 1:
            ya["title"] = dict(text=axis_titles[r - 1], font=dict(family=FONT, size=31, color="black"),
                               standoff=y_title_standoff[r - 1])
        fig.layout["xaxis" if k == 1 else f"xaxis{k}"].update(xa)
        fig.layout["yaxis" if k == 1 else f"yaxis{k}"].update(ya)
        # reference (truth) lines
        shapes.append(dict(type="line", xref=xname(k), x0=truth[c - 1], x1=truth[c - 1],
                           yref=f"{yname(k)} domain", y0=0, y1=1, layer="above",
                           line=dict(color="black", width=4, dash="11px,6px")))
        if r != c:
            shapes.append(dict(type="line", yref=yname(k), y0=truth[r - 1], y1=truth[r - 1],
                               xref=f"{xname(k)} domain", x0=0, x1=1, layer="above",
                               line=dict(color="black", width=4, dash="11px,6px")))

# legend frame (two legend columns share one box)
shapes.append(dict(type="rect", xref="paper", yref="paper",
                   x0=(127 - 152) / 1133, x1=(1310 - 152) / 1133,
                   y0=1 + (120 - 103) / 844, y1=1 + (120 - 2) / 844,
                   line=dict(color="#cccccc", width=1.5), fillcolor="rgba(0,0,0,0)", layer="above"))

leg_common = dict(orientation="v", yanchor="top", xanchor="left", itemwidth=60,
                  font=dict(family=FONT, size=32, color="black"),
                  borderwidth=0, bgcolor="rgba(0,0,0,0)", traceorder="normal", tracegroupgap=5)

fig.update_layout(
    width=1325, height=1111,
    margin=dict(l=152, r=40, t=120, b=147, autoexpand=False),
    paper_bgcolor="white", plot_bgcolor="white",
    font=dict(family=FONT, size=24, color="black"),
    shapes=shapes,
    showlegend=True,
    legend=dict(leg_common, x=-0.0141, y=1.1436),
    legend2=dict(leg_common, x=0.5225, y=1.1436),
)

fig.write_html("out.html", config={"displayModeBar": False},
               post_script="document.body.style.margin='0';")
